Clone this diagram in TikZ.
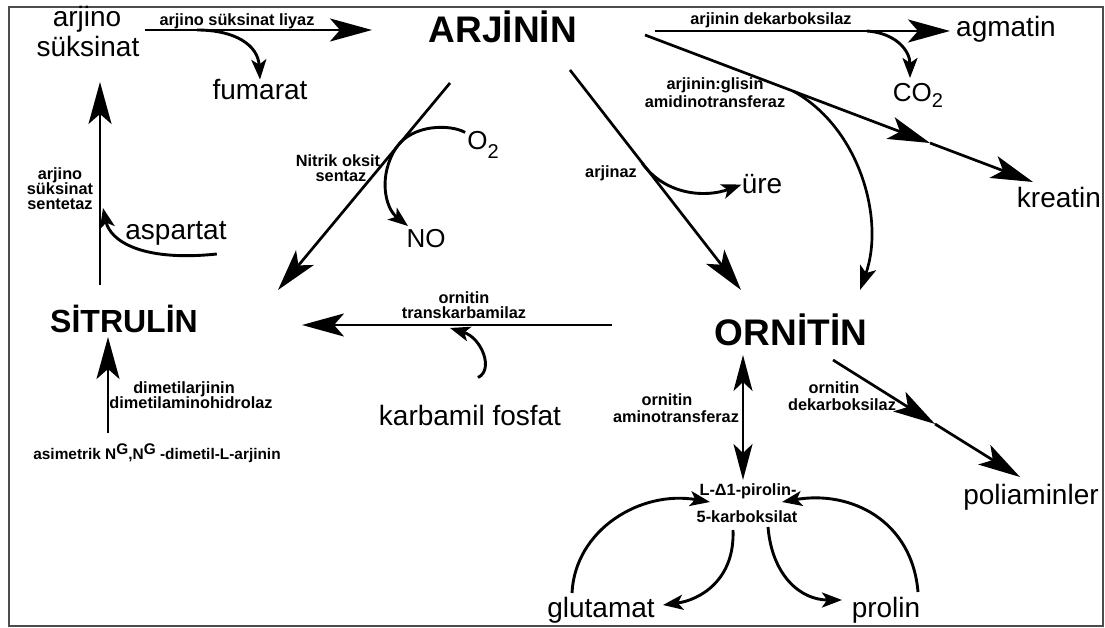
\documentclass[tikz,border=0pt]{standalone}
\usepackage{fontspec}
\setmainfont{Liberation Sans}
\usetikzlibrary{arrows.meta}
\begin{document}
\begin{tikzpicture}[x=1pt,y=-1pt,
 metab/.style={font=\fontsize{28}{30}\selectfont, inner sep=0pt, anchor=base},
 small/.style={font=\fontsize{26}{28}\selectfont, inner sep=0pt, anchor=base},
 big/.style={font=\fontsize{37}{40}\selectfont\bfseries, inner sep=0pt, anchor=base},
 enz/.style={font=\fontsize{16.3}{17}\selectfont\bfseries, inner sep=0pt, anchor=base},
 rxn/.style={line width=2.7pt, -{Stealth[length=42pt,width=23pt,inset=10pt]}},
 mid/.style={line width=2.7pt, -{Stealth[length=24pt,width=17pt,inset=6pt]}},
 side/.style={line width=2.9pt, -{Stealth[length=20pt,width=15pt,inset=5pt]}},
]
\useasboundingbox (0,0) rectangle (1105,628);
\draw[line width=2.5pt, black!70] (9,7) rectangle (1103,626);

% metabolites
\node[big] (arj) at (503,43) {ARJİNİN};
\node[big] (orn) at (791,345) {ORNİTİN};
\node[big, font=\fontsize{32}{34}\selectfont\bfseries] (sit) at (124,332) {SİTRULİN};
\node[metab] (as1) at (87,27) {arjino};
\node[metab] (as2) at (88,57) {süksinat};
\node[metab] (fum) at (260,100) {fumarat};
\node[metab] (agm) at (1006,37) {agmatin};
\node[small] (co2) at (918,102) {CO\raisebox{-6pt}{\fontsize{20}{20}\selectfont 2}};
\node[metab] (kre) at (1059,208) {kreatin};
\node[metab] (ure) at (762,194) {üre};
\node[small] (o2) at (483,150) {O\raisebox{-9pt}{\fontsize{20}{20}\selectfont 2}};
\node[small] (no) at (426,248) {NO};
\node[metab] (asp) at (176,240) {aspartat};
\node[metab] (kf) at (470,425) {karbamil fosfat};
\node[metab] (pol) at (1031,504) {poliaminler};
\node[metab] (glu) at (601,617) {glutamat};
\node[metab] (pro) at (886,617) {prolin};
\node[enz] (p5ca) at (748,495) {L-Δ1-pirolin-};
\node[enz] (p5cb) at (747,522) {5-karboksilat};
\node[enz, font=\fontsize{15.4}{16}\selectfont\bfseries] (adma) at (157,459) {asimetrik N\raisebox{5pt}{G},N\raisebox{5pt}{G} -dimetil-L-arjinin};

% enzymes
\node[enz] (e1) at (237,26) {arjino süksinat liyaz};
\node[enz] (e2) at (771,25) {arjinin dekarboksilaz};
\node[enz] (e3a) at (715,90) {arjinin:glisin};
\node[enz] (e3b) at (715,108) {amidinotransferaz};
\node[enz] (e4) at (611,178) {arjinaz};
\node[enz] (e5a) at (338,167) {Nitrik oksit};
\node[enz] (e5b) at (341,182) {sentaz};
\node[enz] (e6a) at (60,180) {arjino};
\node[enz] (e6b) at (60,195) {süksinat};
\node[enz] (e6c) at (60,210) {sentetaz};
\node[enz] (e7a) at (184,393) {dimetilarjinin};
\node[enz] (e7b) at (191,408) {dimetilaminohidrolaz};
\node[enz] (e8a) at (464,303) {ornitin};
\node[enz] (e8b) at (464,318) {transkarbamilaz};
\node[enz] (e9a) at (667,405) {ornitin};
\node[enz] (e9b) at (676,422) {aminotransferaz};
\node[enz] (e10a) at (834,393) {ornitin};
\node[enz] (e10b) at (842,410) {dekarboksilaz};

% connector end points
\coordinate (asE) at (145,30);
\coordinate (arjW) at (372,30);
\coordinate (fumB) at (197,30);
\coordinate (sitN) at (100,285);
\coordinate (asS) at (100,82);
\coordinate (admaN) at (108,433);
\coordinate (sitS) at (108,337);
\coordinate (arjSW) at (450,83);
\coordinate (sitNE) at (278,290);
\coordinate (arjSE) at (570,70);
\coordinate (ornNW) at (741,290);
\coordinate (arjE) at (655,31);
\coordinate (agmW) at (950,31);
\coordinate (co2B) at (867,31);
\coordinate (arjE2) at (645,35);
\coordinate (kreM) at (930,143);
\coordinate (kreW) at (1033,182);
\coordinate (agatB) at (793,91);
\coordinate (ornNE) at (860,290);
\coordinate (ornW) at (612,325);
\coordinate (sitE) at (302,325);
\coordinate (ornS) at (743,355);
\coordinate (p5cN) at (743,480);
\coordinate (ornSE) at (833,360);
\coordinate (polM) at (935,424);
\coordinate (polN) at (1020,477);

% main reactions
\draw[rxn] (asE) -- (arjW);
\draw[rxn] (sitN) -- (asS);
\draw[rxn] (admaN) -- (sitS);
\draw[rxn] (arjSW) -- (sitNE);
\draw[rxn] (arjSE) -- (ornNW);
\draw[rxn] (arjE) -- (agmW);
\draw[rxn] (arjE2) -- (kreM);
\draw[rxn] (kreM) -- (kreW);
\draw[rxn] (ornW) -- (sitE);
\draw[line width=2.7pt, {Stealth[length=36pt,width=19pt,inset=9pt]}-{Stealth[length=36pt,width=19pt,inset=9pt]}] (ornS) -- (p5cN);
\draw[rxn] (ornSE) -- (polM);
\draw[rxn] (polM) -- (polN);

% side reactions
\draw[side] (fumB) .. controls (235,30) and (258,45) .. (fum.north);
\draw[side] (asp.south east) ++(-10,8) .. controls (140,262) and (110,240) .. (103,208);
\draw[side] (o2.west) ++(-2,-13) .. controls (450,124) and (412,124) .. (396,148) .. controls (378,176) and (385,208) .. (408,226);
\draw[side] (642,163) .. controls (665,195) and (705,198) .. (ure.west);
\draw[side] (co2B) .. controls (895,33) and (910,50) .. (910,78);
\draw[mid] (agatB) .. controls (860,128) and (885,220) .. (ornNE);
\draw[side] (kf.north) ++(8,-27) .. controls (494,370) and (482,338) .. (450,328);
\draw[side] (572,593) .. controls (575,530) and (640,490) .. (710,502);
\draw[side] (733,530) .. controls (735,580) and (700,600) .. (663,605);
\draw[side] (918,592) .. controls (912,520) and (850,490) .. (782,502);
\draw[side] (768,527) .. controls (772,575) and (800,600) .. (842,600);
\end{tikzpicture}
\end{document}
